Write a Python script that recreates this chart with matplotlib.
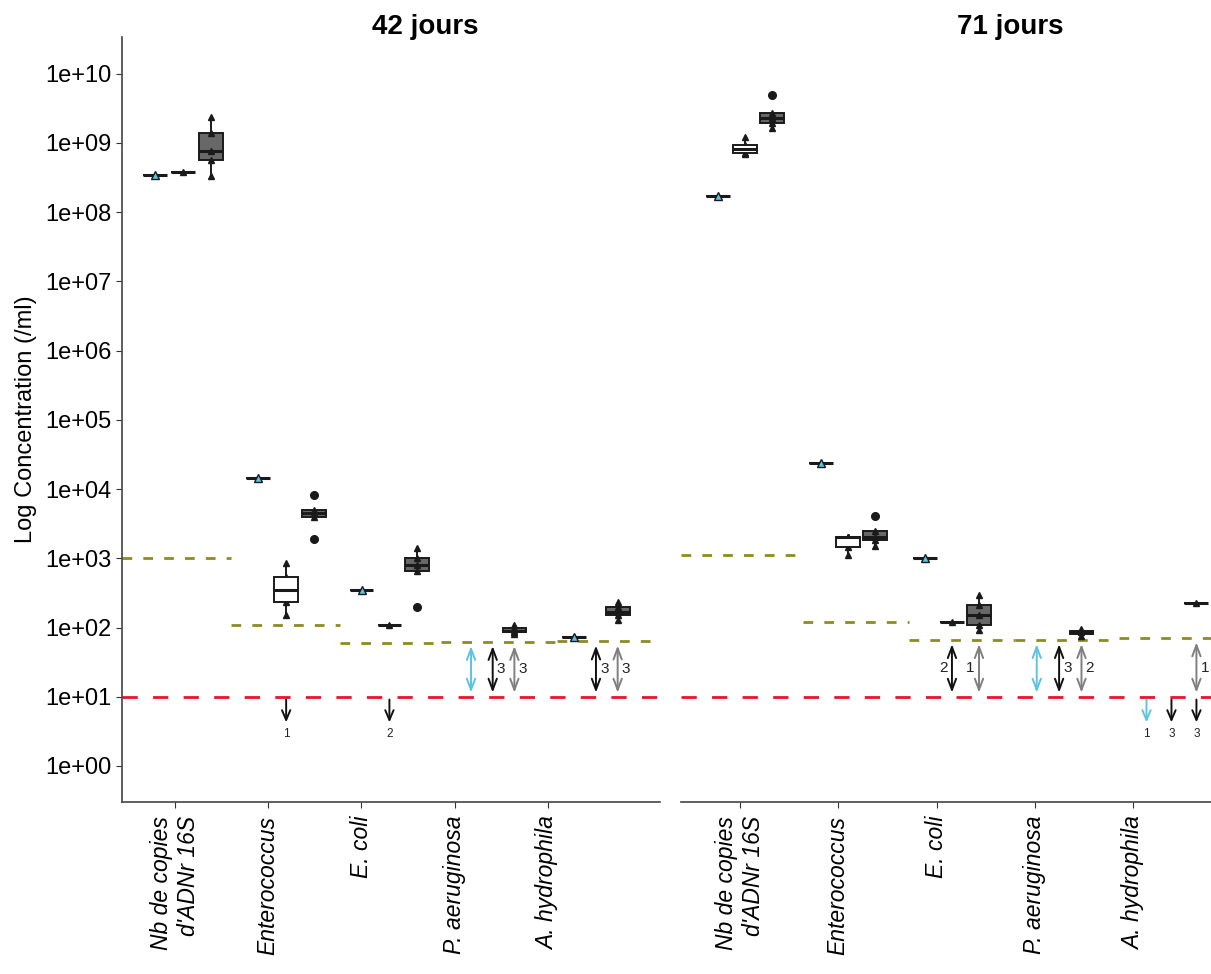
import numpy as np
import matplotlib.pyplot as plt

plt.rcParams['font.family'] = ['Liberation Sans', 'DejaVu Sans']

# ------------------------------------------------------------------
# données
# ------------------------------------------------------------------
categories = ["Nb de copies\nd'ADNr 16S", 'Enterococcus', 'E. coli',
              'P. aeruginosa', 'A. hydrophila']
panels = ['42 jours', '71 jours']

# concentrations (/ml) par catégorie, pour les 3 séries (cyan, blanc, gris)
j42_cyan = [[3.4e8], [1.45e4], [3.5e2], [], [73]]
j42_blanc = [[3.8e8], [150, 230, 350, 540, 860], [110], [], []]
j42_gris = [[3.3e8, 5.6e8, 7.7e8, 1.4e9, 2.4e9],
            [1.9e3, 4.0e3, 4.5e3, 5.0e3, 8.3e3],
            [200, 650, 800, 1000, 1400],
            [80, 85, 90, 100, 110],
            [130, 150, 170, 200, 230]]

j71_cyan = [[1.73e8], [2.4e4], [1.0e3], [], []]
j71_blanc = [[6.9e8, 7.2e8, 8.3e8, 9.3e8, 1.23e9],
             [1.1e3, 1.45e3, 2.0e3, 2.0e3, 2.0e3],
             [120], [], []]
j71_gris = [[1.65e9, 1.95e9, 2.3e9, 2.75e9, 5.0e9],
            [1.5e3, 1.85e3, 2.05e3, 2.5e3, 4.1e3],
            [93, 110, 150, 210, 300],
            [75, 85, 95],
            [225]]

# limites de détection / quantification
lod = 10
j42_loq = [1000, 110, 60, 62, 63]
j71_loq = [1100, 120, 66, 66, 70]

# échantillons entre LOD et LOQ : (catégorie, série, nombre)
j42_sous_loq = [(3, 0, None), (3, 1, 3), (3, 2, 3), (4, 1, 3), (4, 2, 3)]
j71_sous_loq = [(2, 1, 2), (2, 2, 1), (3, 0, None), (3, 1, 3), (3, 2, 2), (4, 2, 1)]
# échantillons sous la LOD : (catégorie, série, nombre)
j42_sous_lod = [(1, 1, 1), (2, 1, 2)]
j71_sous_lod = [(4, 0, 1), (4, 1, 3), (4, 2, 3)]

# ------------------------------------------------------------------
# mise en page
# ------------------------------------------------------------------
CYAN = '#5cc3e0'
GRIS_BOITE = '#686868'
OLIVE = '#8c8c24'
ROUGE = '#e8142c'

layout = [
    dict(rect=[0.1007, 0.1766, 0.4443, 0.7854], xlim=(-0.59, 4.62),
         centres=[0, 1, 2, 3, 4], ecarts=[0.27, 0.27, 0.27, 0.21, 0.21],
         ticks=[-0.077 + 0.903 * i for i in range(5)],
         loq_bords=[-0.59, 0.47, 1.52, 2.5, 3.62, 4.62], titre_x=0.351),
    dict(rect=[0.5623, 0.1766, 0.4377, 0.7854], xlim=(-0.615, 4.48),
         centres=[0, 0.99, 1.99, 3.02, 4.1], ecarts=[0.26, 0.26, 0.26, 0.215, 0.24],
         ticks=[-0.048 + 0.945 * i for i in range(5)],
         loq_bords=[-0.615, 0.56, 1.58, 2.6, 3.6, 4.48], titre_x=0.834),
]

donnees = [
    (j42_cyan, j42_blanc, j42_gris, j42_loq, j42_sous_loq, j42_sous_lod),
    (j71_cyan, j71_blanc, j71_gris, j71_loq, j71_sous_loq, j71_sous_lod),
]
label_gauche = {(1, 2)}  # (panneau, catégorie) où le chiffre est à gauche

fig = plt.figure(figsize=(12.11, 9.74), dpi=100)

for p, (titre, lay, dat) in enumerate(zip(panels, layout, donnees)):
    cyan, blanc, gris, loq, sous_loq, sous_lod = dat
    ax = fig.add_axes(lay['rect'])
    ax.set_xlim(*lay['xlim'])
    ax.set_ylim(-0.52, 10.53)

    for i in range(len(categories)):
        xc = lay['centres'][i]
        dx = lay['ecarts'][i]
        for s, serie in enumerate([cyan, blanc, gris]):
            vals = serie[i]
            if not vals:
                continue
            x = xc + (s - 1) * dx
            lv = np.log10(vals)
            face = {0: 'white', 1: 'white', 2: GRIS_BOITE}[s]
            ax.boxplot([lv], positions=[x], widths=0.23, patch_artist=True,
                       whis=1.5, showcaps=False, manage_ticks=False,
                       boxprops=dict(facecolor=face, edgecolor='#1a1a1a', lw=1.4),
                       medianprops=dict(color='#1a1a1a', lw=2.2),
                       whiskerprops=dict(color='#1a1a1a', lw=1.4),
                       flierprops=dict(marker='o', markerfacecolor='#1a1a1a',
                                       markeredgecolor='#1a1a1a', markersize=5.5),
                       zorder=3)
            # points individuels (triangles), hors valeurs aberrantes
            q1, q3 = np.percentile(lv, [25, 75])
            iqr = q3 - q1
            pts = lv[(lv >= q1 - 1.5 * iqr) & (lv <= q3 + 1.5 * iqr)]
            if s == 0:
                ax.plot([x] * len(pts), pts, ls='none', marker='^', markersize=6,
                        markerfacecolor=CYAN, markeredgecolor='#1a1a1a', mew=1, zorder=5)
            else:
                ax.plot([x] * len(pts), pts, ls='none', marker='^', markersize=5,
                        color='#1a1a1a', zorder=2 if s == 1 else 5)

        # LOQ (olive)
        ax.plot([lay['loq_bords'][i], lay['loq_bords'][i + 1]], [np.log10(loq[i])] * 2,
                color=OLIVE, lw=2, dashes=(3.5, 4), zorder=1)

    # LOD (rouge)
    ax.axhline(np.log10(lod), color=ROUGE, lw=2, dashes=(5.5, 5.5), zorder=1)

    couleurs_double = [CYAN, '#111111', '#7f7f7f']
    for i, s, n in sous_loq:
        x = lay['centres'][i] + (s - 1) * lay['ecarts'][i]
        ax.annotate('', xy=(x, np.log10(loq[i])), xytext=(x, np.log10(lod)),
                    arrowprops=dict(arrowstyle='<->,head_length=0.8,head_width=0.3',
                                    color=couleurs_double[s], lw=1.4,
                                    shrinkA=3, shrinkB=3))
        if n is not None:
            ym = (np.log10(loq[i]) + np.log10(lod)) / 2
            if (p, i) in label_gauche:
                ax.text(x - 0.04, ym, str(n), ha='right', va='center', fontsize=11,
                        color='#222222')
            else:
                ax.text(x + 0.04, ym, str(n), ha='left', va='center', fontsize=11,
                        color='#222222')

    couleurs_bas = [CYAN, '#111111', '#111111']
    for i, s, n in sous_lod:
        x = lay['centres'][i] + (s - 1) * lay['ecarts'][i]
        ax.annotate('', xy=(x, 0.63), xytext=(x, np.log10(lod)),
                    arrowprops=dict(arrowstyle='->,head_length=0.7,head_width=0.3',
                                    color=couleurs_bas[s], lw=1.4,
                                    shrinkA=2, shrinkB=0))
        ax.text(x, 0.46, str(n), ha='center', va='center', fontsize=8.5, color='#222222')

    # axes
    ax.set_xticks(lay['ticks'])
    ax.set_xticklabels(categories, rotation=90, fontstyle='italic', fontsize=16.5,
                       ha='center', va='top', multialignment='right')
    ax.tick_params(axis='x', length=4, color='#333333', pad=6)
    for sp in ['top', 'right']:
        ax.spines[sp].set_visible(False)
    ax.spines['bottom'].set_color('#444444')
    ax.spines['bottom'].set_linewidth(1.2)
    if p == 0:
        ax.set_yticks(range(0, 11))
        ax.set_yticklabels([f'1e+{k:02d}' for k in range(0, 11)], fontsize=17)
        ax.tick_params(axis='y', length=4, color='#333333')
        ax.spines['left'].set_color('#444444')
        ax.spines['left'].set_linewidth(1.2)
        ax.set_ylabel('Log Concentration (/ml)', fontsize=17, labelpad=6)
    else:
        ax.spines['left'].set_visible(False)
        ax.set_yticks([])

    fig.text(lay['titre_x'], 0.972, titre, ha='center', va='center',
             fontsize=20, fontweight='bold',
             family=['Liberation Sans Narrow', 'Liberation Sans', 'DejaVu Sans'])

fig.savefig('out.png', dpi=100)
